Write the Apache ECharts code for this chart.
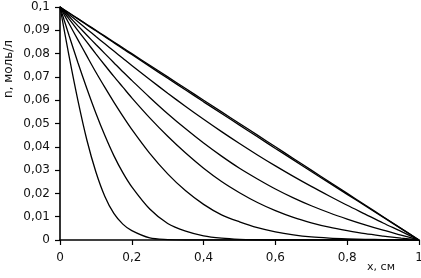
<!DOCTYPE html>
<html>
<head>
<meta charset="utf-8">
<script src="https://cdn.jsdelivr.net/npm/echarts@6/dist/echarts.min.js"></script>
<style>html,body{margin:0;padding:0;background:#fff}#c{width:421px;height:278px}</style>
</head>
<body>
<div id="c"></div>
<script>
var xs = [0,0.025,0.05,0.075,0.1,0.125,0.15,0.175,0.2,0.25,0.3,0.35,0.4,0.45,0.5,0.55,0.6,0.65,0.7,0.75,0.8,0.85,0.9,0.95,1];
var c1 = [0.1,0.0791,0.0598,0.0428,0.0292,0.0187,0.0114,0.0068,0.0040,0.0009,0.0002,0,0,0,0,0,0,0,0,0,0,0,0,0,0];
var c2 = [0.1,0.0879,0.0761,0.0649,0.0544,0.0448,0.0362,0.0289,0.0228,0.0133,0.0071,0.0038,0.0018,0.0008,0.0003,0.0001,0,0,0,0,0,0,0,0,0];
var c3 = [0.1,0.0929,0.0859,0.0789,0.0720,0.0655,0.0592,0.0532,0.0475,0.0372,0.0284,0.0211,0.0153,0.0108,0.0078,0.0053,0.0035,0.0022,0.0013,0.0008,0.0005,0.0003,0.0002,0.0001,0];
var c4 = [0.1,0.0949,0.0899,0.0849,0.0799,0.0750,0.0702,0.0656,0.0610,0.0524,0.0445,0.0373,0.0308,0.0251,0.0203,0.0161,0.0126,0.0097,0.0074,0.0055,0.0040,0.0027,0.0017,0.0008,0];
var c5 = [0.1,0.0960,0.0919,0.0879,0.0839,0.0800,0.0761,0.0722,0.0685,0.0612,0.0542,0.0477,0.0416,0.0360,0.0308,0.0262,0.0219,0.0181,0.0147,0.0117,0.0090,0.0065,0.0042,0.0021,0];
var c6 = [0.1,0.0968,0.0937,0.0905,0.0873,0.0842,0.0811,0.0780,0.0749,0.0689,0.0630,0.0573,0.0518,0.0465,0.0414,0.0365,0.0318,0.0273,0.0230,0.0189,0.0149,0.0111,0.0073,0.0037,0];
var c7 = [0.1,0.0974,0.0949,0.0923,0.0898,0.0872,0.0847,0.0821,0.0796,0.0745,0.0694,0.0644,0.0593,0.0543,0.0493,0.0443,0.0393,0.0344,0.0294,0.0245,0.0196,0.0147,0.0098,0.0049,0];
var c8 = [0.1,0.0975,0.095,0.0925,0.09,0.0875,0.085,0.0825,0.08,0.075,0.07,0.065,0.06,0.055,0.05,0.045,0.04,0.035,0.03,0.025,0.02,0.015,0.01,0.005,0];
var curves = [c1,c2,c3,c4,c5,c6,c7,c8];
var yAxisTitle = 'n, моль/л';
var xAxisTitle = 'x, см';

function fmt(v){ return String(Math.round(v*100)/100).replace('.', ','); }
var FONT = 'DejaVu Sans';

var series = curves.map(function(c){
  return {
    type: 'line',
    data: xs.map(function(x,i){ return [x, c[i]]; }),
    showSymbol: false,
    smooth: 0.3,
    lineStyle: {color: '#000', width: 1.3},
    silent: true
  };
});

var chart = echarts.init(document.getElementById('c'), null, {renderer: 'canvas'});
chart.setOption({
  animation: false,
  backgroundColor: '#fff',
  grid: {left: 60, right: 2, top: 7, bottom: 38, containLabel: false, outerBoundsMode: 'none'},
  xAxis: {
    type: 'value', min: 0, max: 1, interval: 0.2,
    axisLine: {lineStyle: {color: '#000', width: 1.6}},
    axisTick: {show: true, length: 5, inside: false, lineStyle: {color: '#000', width: 1.2}},
    axisLabel: {color: '#111', fontFamily: FONT, fontSize: 12, margin: 12, formatter: fmt, showMaxLabel: true},
    splitLine: {show: false}
  },
  yAxis: {
    type: 'value', min: 0, max: 0.1, interval: 0.01,
    axisLine: {show: true, lineStyle: {color: '#000', width: 1.6}},
    axisTick: {show: true, length: 5, inside: false, lineStyle: {color: '#000', width: 1.2}},
    axisLabel: {color: '#111', fontFamily: FONT, fontSize: 12, margin: 10, formatter: fmt},
    splitLine: {show: false}
  },
  graphic: [
    {type: 'text', x: 9, y: 69, rotation: Math.PI/2,
     style: {text: yAxisTitle, fill: '#111', font: '12px DejaVu Sans', align: 'center', verticalAlign: 'middle'}},
    {type: 'text', x: 381, y: 267,
     style: {text: xAxisTitle, fill: '#111', font: '11px DejaVu Sans', align: 'center', verticalAlign: 'middle'}}
  ],
  series: series
});
</script>
</body>
</html>
